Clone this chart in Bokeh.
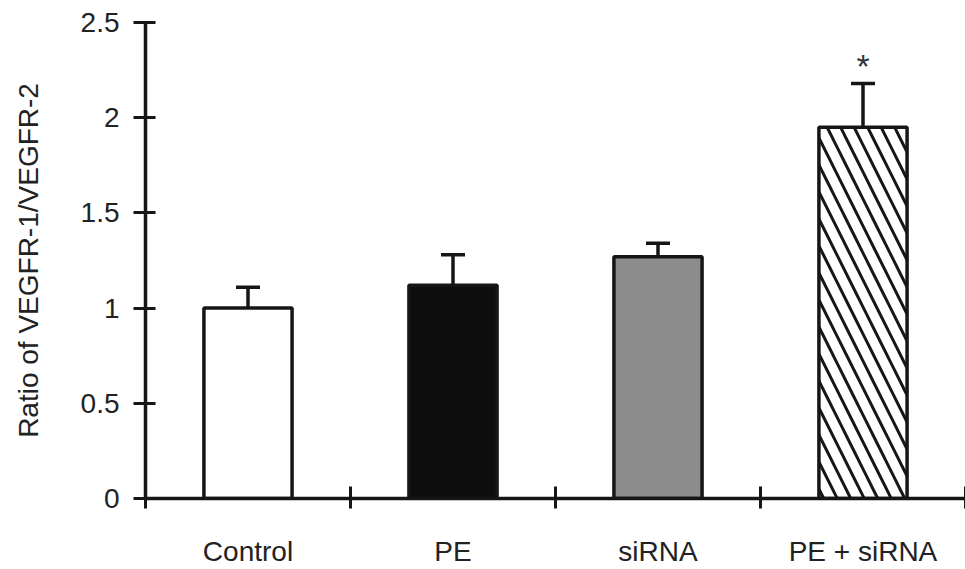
from bokeh.plotting import figure
from bokeh.models import ColumnDataSource, FixedTicker, Whisker, TeeHead, NumeralTickFormatter
from bokeh.core.properties import value
from bokeh.embed import file_html
from bokeh.resources import INLINE

# ---- data ----
categories = ["Control", "PE", "siRNA", "PE + siRNA"]
means = [1.00, 1.12, 1.27, 1.95]
errors = [0.11, 0.16, 0.07, 0.23]
significance = ["", "", "", "*"]
y_ticks = [0, 0.5, 1, 1.5, 2, 2.5]
y_title = "Ratio of VEGFR-1/VEGFR-2"

# ---- styles ----
fills = ["#ffffff", "#0d0d0d", "#8c8c8c", "#ffffff"]
hatches = [" ", " ", " ", "\\"]
INK = "#161616"
FONT = "Liberation Sans"

centers = [i + 0.5 for i in range(len(categories))]
boundaries = list(range(len(categories) + 1))
upper = [m + e for m, e in zip(means, errors)]

source = ColumnDataSource(dict(
    x=centers, top=means, upper=upper, cat=categories,
    fill=fills, hatch=hatches, star=significance,
))

p = figure(width=965, height=569, x_range=(0, len(categories)), y_range=(0, 2.5),
           output_backend="svg", toolbar_location=None,
           min_border_left=145, min_border_right=0, min_border_top=22, min_border_bottom=70)
p.outline_line_color = None
p.grid.visible = False
p.background_fill_color = "white"
p.border_fill_color = "white"

p.vbar(x="x", top="top", bottom=0, width=0.43, source=source,
       fill_color="fill", line_color=INK, line_width=3.5,
       hatch_pattern="hatch", hatch_color=INK, hatch_weight=3, hatch_scale=27)

whisker = Whisker(base="x", lower="top", upper="upper", source=source, dimension="height",
                  line_width=3.5, line_color=INK,
                  upper_head=TeeHead(size=24, line_width=3.5, line_color=INK),
                  lower_head=None)
p.add_layout(whisker)

p.text(x="x", y="upper", text="star", source=source, text_align="center",
       text_baseline="alphabetic", y_offset=-17, text_font_size="34px",
       text_font=value(FONT), text_color="#333333")

# x axis
xa = p.xaxis[0]
xa.ticker = FixedTicker(ticks=centers, minor_ticks=boundaries)
xa.major_label_overrides = {c: name for c, name in zip(centers, categories)}
xa.major_tick_in = 0
xa.major_tick_out = 0
xa.minor_tick_in = 12
xa.minor_tick_out = 10
xa.minor_tick_line_width = 3
xa.minor_tick_line_color = INK
xa.axis_line_width = 3.5
xa.axis_line_color = INK
xa.major_label_text_font = FONT
xa.major_label_text_font_size = "28px"
xa.major_label_text_color = "#222222"
xa.major_label_standoff = 27

# y axis
ya = p.yaxis[0]
ya.ticker = FixedTicker(ticks=y_ticks)
ya.formatter = NumeralTickFormatter(format="0.[0]")
ya.major_tick_in = 10
ya.major_tick_out = 12
ya.major_tick_line_width = 3
ya.major_tick_line_color = INK
ya.minor_tick_line_color = None
ya.axis_line_width = 3.5
ya.axis_line_color = INK
ya.major_label_text_font = FONT
ya.major_label_text_font_size = "28px"
ya.major_label_text_color = "#222222"
ya.major_label_standoff = 14
ya.axis_label = y_title
ya.axis_label_text_font = FONT
ya.axis_label_text_font_size = "28px"
ya.axis_label_text_font_style = "normal"
ya.axis_label_text_color = "#222222"
ya.axis_label_standoff = 34

open("out.html", "w").write(file_html(p, INLINE))
